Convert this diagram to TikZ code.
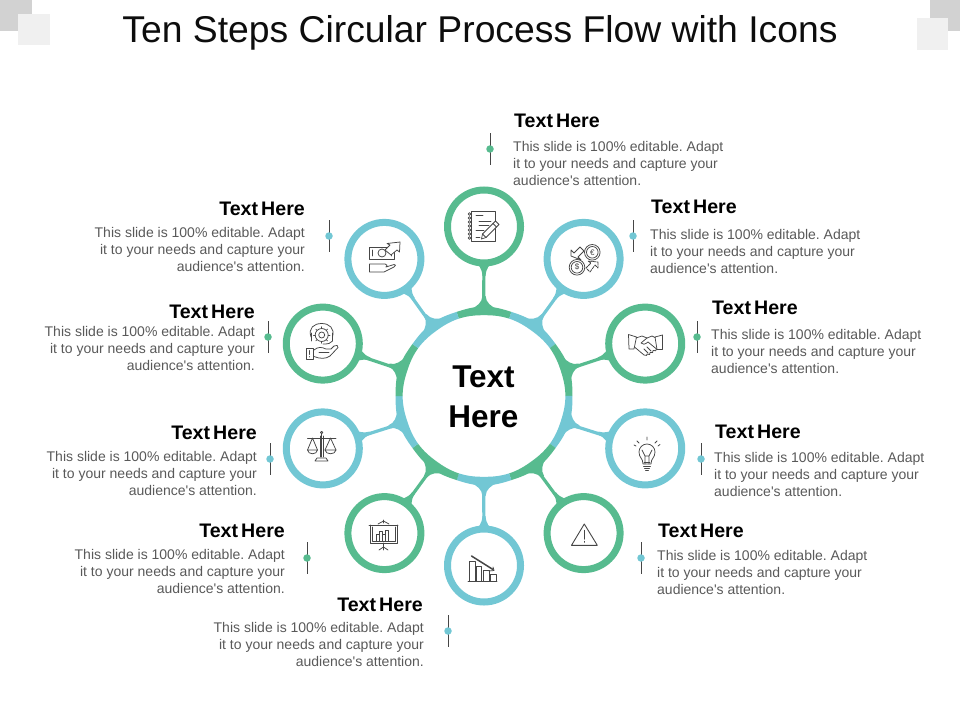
\documentclass[tikz,border=0pt]{standalone}
\usepackage{fontspec}
\setmainfont{Liberation Sans}
\newfontfamily\plainf{Liberation Sans}
\usetikzlibrary{calc}
\definecolor{gr}{RGB}{87,187,143}
\definecolor{bl}{RGB}{114,199,212}
\definecolor{txt}{RGB}{89,89,89}
\definecolor{ic}{RGB}{70,70,70}
\tikzset{
 sat/.style={circle,draw=#1,line width=7pt,minimum size=73pt,inner sep=0pt,fill=white},
 stem/.style={draw=#1,line width=3.2pt},
 head/.style={font=\fontsize{19.6}{21}\selectfont\bfseries,text=black,inner sep=0pt},
 bodyl/.style={font=\plainf\fontsize{14}{17}\selectfont,text=txt,align=left,anchor=west,inner sep=0pt},
 bodyr/.style={font=\plainf\fontsize{14}{17}\selectfont,text=txt,align=right,anchor=east,inner sep=0pt},
 tick/.style={draw=ic,line width=0.7pt},
 dotm/.style={circle,fill=#1,minimum size=7.5pt,inner sep=0pt},
 icon/.style={draw=ic,line width=0.75pt,line join=round,line cap=round},
}
\newcommand{\HT}{Text\hspace{-0.12em} Here}
\newcommand{\LL}{This slide is 100\% editable. Adapt\\it to your needs and capture your\\audience's attention.}
\frenchspacing
\begin{document}
\begin{tikzpicture}[x=1pt,y=-1pt]
\useasboundingbox (0,0) rectangle (960,720);
% corners
\fill[gray!35] (0,0) rectangle (32,31);
\fill[gray!35] (930,0) rectangle (960,31);
\fill[black!6] (18,14) rectangle (50,45);
\fill[black!6] (917,18) rectangle (948,50);
\node[font=\fontsize{37.3}{40}\selectfont,text=black!95,inner sep=0pt] (title) at (480,32.5) {Ten Steps Circular Process Flow with Icons};
% hub
\node[circle,minimum size=178pt,inner sep=0pt,font=\fontsize{31.5}{40}\selectfont\bfseries,align=center,text=black] (hub) at (483.5,397.3) {Text\\Here};
\coordinate (hc) at (484,396);
% ring + connectors
\foreach \a/\c/\n/\px/\py in {90/gr/s1/484/226.5,54/bl/s2/583.6/258.9,18/gr/s3/645.2/343.6,-18/bl/s4/645.2/448.4,-54/gr/s5/583.6/533.1,-90/bl/s6/484/565.5,-126/gr/s7/384.4/533.1,-162/bl/s8/322.8/448.4,162/gr/s9/322.8/343.6,126/bl/s10/384.4/258.9}{
 \node[sat=\c] (\n) at (\px,\py) {};
 \draw[stem=\c] (hub) -- (\n);
 \begin{scope}[shift={(hc)},rotate=\a,y=1pt]
  \fill[\c] (86,-14) .. controls (90,-7) and (93,-2) .. (100,-1.6) -- (100,1.6) .. controls (93,2) and (90,7) .. (86,14) -- cycle;
  \fill[\c] (135.5,-9) .. controls (131,-6) and (128,-1.8) .. (120,-1.6) -- (120,1.6) .. controls (128,1.8) and (131,6) .. (135.5,9) -- cycle;
  \fill[\c] (84.1,-27.4) .. controls (87.2,-17.8) and (89.4,-10) .. (89.4,0) .. controls (89.4,10) and (87.2,17.8) .. (84.1,27.4) -- (77.4,25.2) .. controls (80.2,16) and (80.8,9) .. (80.8,0) .. controls (80.8,-9) and (80.2,-16) .. (77.4,-25.2) -- cycle;
 \end{scope}
}
% ticks and dots
\foreach \x/\y/\c/\n in {490/149/gr/d1,633/236/bl/d2,697/337/gr/d3,701/459/bl/d4,641/558/bl/d5,448/631/bl/d6,307/558/gr/d7,270/459/bl/d8,268/337/gr/d9,329/236/bl/d10}{
 \draw[tick] (\x,\y-16) -- (\x,\y+16);
 \node[dotm=\c] (\n) at (\x,\y) {};
}
% texts
\node[head,anchor=west] (h1) at (514,121) {\HT};
\node[bodyl] (b1) at (513,163) {\LL};
\node[head,anchor=west] (h2) at (651,207) {\HT};
\node[bodyl] (b2) at (650,251.5) {\LL};
\node[head,anchor=west] (h3) at (712,308) {\HT};
\node[bodyl] (b3) at (711,351.5) {\LL};
\node[head,anchor=west] (h4) at (715,432) {\HT};
\node[bodyl] (b4) at (714,474.5) {\LL};
\node[head,anchor=west] (h5) at (658,531) {\HT};
\node[bodyl] (b5) at (657,572.5) {\LL};
\node[head,anchor=east] (h6) at (423,605) {\HT};
\node[bodyr] (b6) at (424,644.5) {\LL};
\node[head,anchor=east] (h7) at (285,531) {\HT};
\node[bodyr] (b7) at (285,571.5) {\LL};
\node[head,anchor=east] (h8) at (257,433) {\HT};
\node[bodyr] (b8) at (257,473.5) {\LL};
\node[head,anchor=east] (h9) at (255,312) {\HT};
\node[bodyr] (b9) at (255,348.5) {\LL};
\node[head,anchor=east] (h10) at (305,209) {\HT};
\node[bodyr] (b10) at (305,249.5) {\LL};
% icon: notebook
\draw[icon] (471,211.5) rectangle (495,241);
\foreach \y in {214,218,222,226,230,234,238} \draw[icon] (471,\y) ++(-1.5,0) circle[radius=1.4pt];
\draw[icon] (476,215) -- (483,215) (479,221) -- (491,221) (479,225.5) -- (489,225.5) (476,230) -- (484,230) (476,237) -- (480,237);
\draw[icon,fill=white] (481.5,239) -- (482.5,234) -- (495.5,221) -- (499,224.5) -- (486,237.5) -- cycle;
\draw[icon] (482.5,234) -- (486,237.5) (493,223.5) -- (496.5,227);
% icon: money and hand
\draw[icon] (369.5,247) -- (394,247) -- (394,259) -- (369.5,259) -- cycle;
\draw[icon] (372.5,250) -- (372.5,256) (391,250) -- (391,256);
\draw[icon] (382,253) circle[radius=4pt];
\draw[icon,fill=white] (385,250) -- (390,245) -- (387,243.5) -- (400,242) -- (399.5,252) -- (397,250) -- (391,255) -- cycle;
\draw[icon] (369.5,264) -- (385,264) .. controls (387,264) and (388,266) .. (386,267) -- (394,264.5) .. controls (396,264) and (396,266) .. (394,267) -- (384,272) -- (369.5,272) -- cycle;
% icon: euro/dollar
\draw[icon] (592.3,252.3) circle[radius=7.8pt] (592.3,252.3) circle[radius=5.8pt];
\draw[icon] (577,267.3) circle[radius=7.8pt] (577,267.3) circle[radius=5.8pt];
\node[font=\fontsize{8}{8}\selectfont,text=ic,inner sep=0pt] (eur) at (592.3,252.3) {€};
\node[font=\fontsize{8}{8}\selectfont,text=ic,inner sep=0pt] (usd) at (577,267.3) {\$};
\draw[icon] (571,256) -- (571,250) -- (574,253) -- (580,247) -- (584,251) -- (578,257) -- (581,260) -- cycle;
\draw[icon,dash pattern=on 3pt off 1pt] (598,262) -- (598,268) -- (595,265) -- (590,272) -- (586,268) -- (591,263) -- (588,261) -- cycle;
% icon: gear and hand
\draw[icon] (321.7,335) circle[radius=3pt] (321.7,335) circle[radius=6.5pt];
\foreach \t in {0,45,...,315} \draw[icon] ($(321.7,335)+(\t:6.5pt)$) -- ($(321.7,335)+(\t:8.2pt)$);
\draw[icon] (311,337) .. controls (308,328) and (314,323.5) .. (321.7,323.5) .. controls (329,323.5) and (335,328) .. (332.5,337);
\draw[icon] (311,333) -- (311,341) (332.5,333) -- (332.5,341);
\draw[icon] (332.5,341) .. controls (331,343.5) and (328,344) .. (323,344);
\draw[icon] (306,348) rectangle (313,359);
\draw[icon] (309.5,350.5) -- (309.5,354.5) (309.5,356.5) -- (309.5,357);
\draw[icon] (314,350) .. controls (318,346.5) and (322,347) .. (326,349) -- (331,349) -- (334,346) .. controls (336,344.5) and (339,345.5) .. (338,347.5) -- (330,356) .. controls (326,359) and (320,359) .. (314,356.5);
\draw[icon] (319,352.5) -- (329,352.5);
% icon: scale
\draw[icon] (321.7,434) -- (321.7,457) (320,457) -- (320,436) (323.4,436) -- (323.4,457);
\draw[icon] (321.7,432.5) circle[radius=1.2pt];
\draw[icon] (307.5,438) -- (336,438);
\draw[icon] (312.5,438) -- (307.5,450) (312.5,438) -- (317.5,450) (330.5,438) -- (325,450) (330.5,438) -- (336,450);
\draw[icon] (307.5,450) .. controls (308,455) and (317,455) .. (317.5,450) -- cycle;
\draw[icon] (325,450) .. controls (325.5,455) and (335.5,455) .. (336,450) -- cycle;
\draw[icon] (315,461) -- (328,461) -- (326,458) -- (317,458) -- cycle;
% icon: handshake
\draw[icon] (628.5,334.5) -- (636.5,337) -- (634,349) -- (629,349) -- cycle;
\draw[icon] (662.5,335) -- (655,337) -- (657,349.5) -- (662.5,349.5) -- cycle;
\draw[icon] (636,338) -- (642,336) -- (647,338) -- (652,336) -- (655,337.5);
\draw[icon] (647,338) -- (641,343) .. controls (642.5,345) and (645,344.5) .. (648,342) -- (656.5,349);
\draw[icon] (634.5,347) -- (644,355) .. controls (646,356.5) and (648,355) .. (647,354) .. controls (649,356) and (651,354) .. (650,352.5) .. controls (652,354) and (654,352) .. (653,350.5) .. controls (655,352) and (657,350) .. (656.5,349);
\draw[icon] (644,349) -- (648,353) (647,347) -- (651,351);
% icon: bulb
\draw[icon] (643,464) .. controls (643,458) and (639,458) .. (639,452) arc[start angle=180,end angle=0,radius=8pt] .. controls (655,458) and (651,458) .. (651,464) -- cycle;
\draw[icon] (642,450) -- (645,456) -- (645,464) (652,450) -- (649,456) -- (649,464) (645,456) -- (649,456);
\draw[icon] (643.5,466) -- (650.5,466) (644,462) -- (650,462) (644.5,468.5) -- (649.5,468.5) (645.5,470) -- (648.5,470);
\draw[icon] (647,437) -- (647,440) (637,441) -- (639,443) (657,441) -- (655,443) (634,445) -- (636,446) (660,444.5) -- (658,446);
% icon: chart board
\draw[icon] (369,525) -- (398,525) (370.5,525) -- (370.5,543) -- (397,543) -- (397,525) (372.5,527) -- (372.5,541) -- (395,541) -- (395,527);
\draw[icon] (383.5,520) -- (383.5,523) (378,524) -- (383.5,521) -- (389,524);
\draw[icon] (383.5,543) -- (383.5,550) (379,550) -- (383.5,547) -- (388,550);
\draw[icon] (376,541) -- (376,534) -- (379,534) -- (379,541) (379,541) -- (379,531) -- (382,531) -- (382,541) (382,541) -- (382,534) -- (385,534) -- (385,541) (385,541) -- (385,530) -- (388,530) -- (388,541);
\draw[icon] (374,541) -- (390,541);
% icon: declining bars
\draw[icon] (468,581) -- (497,581);
\draw[icon] (469.5,581) -- (469.5,561.5) -- (475,561.5) -- (475,581);
\draw[icon] (476.5,581) -- (476.5,566) -- (481.5,566) -- (481.5,581);
\draw[icon] (483.5,581) -- (483.5,570) -- (489,570) -- (489,581);
\draw[icon] (490.5,581) -- (490.5,574.5) -- (496,574.5) -- (496,581);
\draw[icon,line width=1.5pt] (471.5,556) -- (493,569.5);
\draw[icon] (489,571) -- (494,570.5) -- (493,567);
% icon: warning
\draw[icon,line width=0.9pt] (584.3,524) -- (597.3,545.3) -- (571.5,545.3) -- cycle;
\draw[icon,line width=1.1pt] (584.3,530.5) -- (584.3,539) (584.3,541.5) -- (584.3,542.2);
\end{tikzpicture}
\end{document}
